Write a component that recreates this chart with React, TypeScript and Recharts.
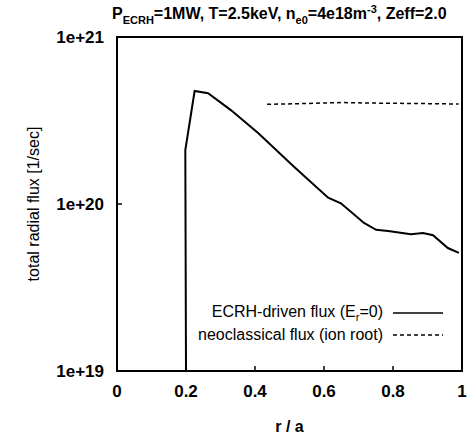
import { Label, Line, LineChart, XAxis, YAxis } from 'recharts';

// ECRH-driven flux (E_r = 0)
const R_ECRH = [0.2, 0.198, 0.225, 0.264, 0.33, 0.409, 0.513, 0.612, 0.649, 0.716, 0.751, 0.786, 0.852, 0.887, 0.916, 0.959, 0.991];
const FLUX_ECRH = [1e19, 2.1e20, 4.75e20, 4.6e20, 3.65e20, 2.66e20, 1.67e20, 1.09e20, 1.01e20, 7.7e19, 7.0e19, 6.9e19, 6.6e19, 6.7e19, 6.5e19, 5.45e19, 5.1e19];

// neoclassical flux (ion root)
const R_NEO = [0.435, 0.55, 0.65, 0.75, 0.85, 0.99];
const FLUX_NEO = [3.95e20, 4.0e20, 4.05e20, 4.02e20, 4.0e20, 3.97e20];

const X_TICKS = [0, 0.2, 0.4, 0.6, 0.8, 1];
const Y_TICKS = [1e19, 1e20, 1e21];

const ecrhData = R_ECRH.map((r, i) => ({ r, flux: FLUX_ECRH[i] }));
const neoData = R_NEO.map((r, i) => ({ r, flux: FLUX_NEO[i] }));

const FONT = '"Liberation Sans", Arial, Helvetica, sans-serif';
const INK = '#000';

const CHART_W = 473;
const CHART_H = 439;
const MARGIN = { top: 37, right: 11, bottom: 0, left: 17 };
const Y_AXIS_W = 100;
const X_AXIS_H = 68;

const yFormat = (v: number) => `1e+${Math.round(Math.log10(v))}`;

function YTitle(props: any) {
  const vb = props.viewBox;
  const cx = vb.x + 16;
  const cy = vb.y + vb.height / 2;
  return (
    <text x={cx} y={cy} transform={`rotate(-90 ${cx} ${cy})`} textAnchor="middle" dominantBaseline="central"
      fontFamily={FONT} fontSize={16} fill={INK}>
      total radial flux [1/sec]
    </text>
  );
}

function XTitle(props: any) {
  const vb = props.viewBox;
  return (
    <text x={vb.x + vb.width / 2} y={vb.y + 61} textAnchor="middle" fontFamily={FONT} fontSize={16}
      fontWeight="bold" fill={INK}>
      r / a
    </text>
  );
}

// plot frame drawn as an overlay on the plot area (bottom/left edges also come from the axes)
function Frame() {
  const left = MARGIN.left + Y_AXIS_W;
  const right = CHART_W - MARGIN.right;
  const top = MARGIN.top;
  const bottom = CHART_H - MARGIN.bottom - X_AXIS_H;
  return (
    <svg
      width={CHART_W}
      height={CHART_H}
      style={{ position: 'absolute', left: 0, top: 0, zIndex: 5, pointerEvents: 'none', overflow: 'visible' }}
    >
      <rect x={left} y={top} width={right - left} height={bottom - top} fill="none" stroke={INK} strokeWidth={2} />
    </svg>
  );
}

function LegendBox() {
  const row = { display: 'flex', alignItems: 'center', height: 22 };
  const text = { width: 203, textAlign: 'right' as const, whiteSpace: 'nowrap' as const };
  return (
    <div style={{ position: 'absolute', left: 180, top: 302, fontFamily: FONT, fontSize: 16, color: INK, zIndex: 6 }}>
      <div style={row}>
        <span style={text}>
          ECRH-driven flux (E<sub style={{ fontSize: 11 }}>r</sub>=0)
        </span>
        <svg width={50} height={6} style={{ marginLeft: 10 }}>
          <line x1={0} y1={3} x2={50} y2={3} stroke={INK} strokeWidth={1.5} />
        </svg>
      </div>
      <div style={row}>
        <span style={text}>neoclassical flux (ion root)</span>
        <svg width={50} height={6} style={{ marginLeft: 10 }}>
          <line x1={0} y1={3} x2={50} y2={3} stroke={INK} strokeWidth={1.5} strokeDasharray="4 3" />
        </svg>
      </div>
    </div>
  );
}

export default function App() {
  const tickStyle = { fontSize: 17, fontWeight: 'bold', fill: INK, fontFamily: FONT };
  return (
    <div style={{ position: 'absolute', left: 0, top: 0, width: CHART_W, height: CHART_H, background: '#fff' }}>
      <div style={{
        position: 'absolute', left: 112, top: 3, fontFamily: FONT, fontSize: 16, fontWeight: 'bold',
        color: INK, whiteSpace: 'nowrap', zIndex: 6,
      }}>
        P<sub style={{ fontSize: 11 }}>ECRH</sub>=1MW, T=2.5keV, n<sub style={{ fontSize: 11 }}>e0</sub>=4e18m
        <sup style={{ fontSize: 11 }}>-3</sup>, Zeff=2.0
      </div>

      <LineChart width={CHART_W} height={CHART_H} margin={MARGIN}>
        <XAxis
          xAxisId="b"
          dataKey="r"
          type="number"
          domain={[0, 1]}
          ticks={X_TICKS}
          height={X_AXIS_H}
          axisLine={{ stroke: INK, strokeWidth: 2 }}
          tickLine={{ stroke: INK, strokeWidth: 1.5 }}
          tickSize={-5}
          tickMargin={19}
          tick={tickStyle}
          tickFormatter={(v: number) => String(v)}
          allowDuplicatedCategory={false}
        >
          <Label content={XTitle} />
        </XAxis>
        <YAxis
          yAxisId="l"
          scale="log"
          domain={[1e19, 1e21]}
          allowDataOverflow
          ticks={Y_TICKS}
          width={Y_AXIS_W}
          axisLine={{ stroke: INK, strokeWidth: 2 }}
          tickLine={{ stroke: INK, strokeWidth: 1.5 }}
          tickSize={-5}
          tickMargin={18}
          tick={tickStyle}
          tickFormatter={yFormat}
          interval={0}
        >
          <Label content={YTitle} />
        </YAxis>

        <Line
          xAxisId="b"
          yAxisId="l"
          data={ecrhData}
          dataKey="flux"
          type="linear"
          stroke={INK}
          strokeWidth={2}
          dot={false}
          activeDot={false}
          isAnimationActive={false}
        />
        <Line
          xAxisId="b"
          yAxisId="l"
          data={neoData}
          dataKey="flux"
          type="linear"
          stroke={INK}
          strokeWidth={1.5}
          strokeDasharray="4 3"
          dot={false}
          activeDot={false}
          isAnimationActive={false}
        />
      </LineChart>

      <Frame />
      <LegendBox />
    </div>
  );
}
